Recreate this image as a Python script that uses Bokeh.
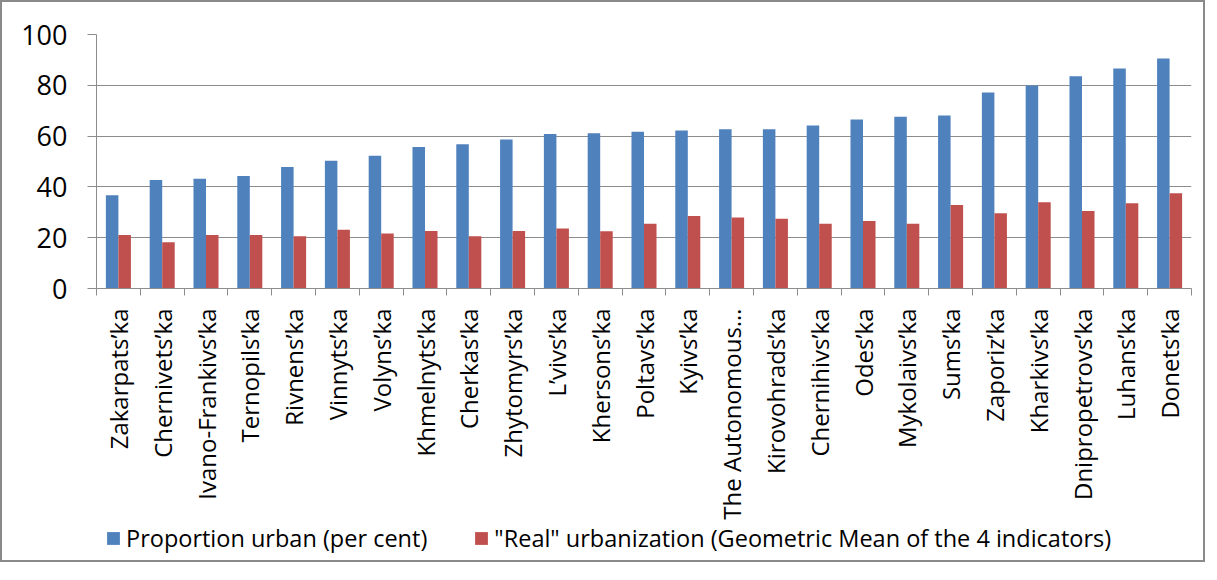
from bokeh.plotting import figure
from bokeh.models import ColumnDataSource, Range1d, FixedTicker, Legend, LegendItem
from bokeh.layouts import column
from bokeh.transform import dodge
from bokeh.embed import file_html
from bokeh.resources import INLINE
import math

regions = ["Zakarpats’ka", "Chernivets’ka", "Ivano-Frankivs’ka", "Ternopils’ka", "Rivnens’ka",
           "Vinnyts’ka", "Volyns’ka", "Khmelnyts’ka", "Cherkas’ka", "Zhytomyrs’ka",
           "L’vivs’ka", "Khersons’ka", "Poltavs’ka", "Kyivs’ka", "The Autonomous…",
           "Kirovohrads’ka", "Chernihivs’ka", "Odes’ka", "Mykolaivs’ka", "Sums’ka",
           "Zaporiz’ka", "Kharkivs’ka", "Dnipropetrovs’ka", "Luhans’ka", "Donets’ka"]
proportion_urban = [36.7, 42.7, 43.2, 44.3, 47.8, 50.3, 52.3, 55.7, 56.8, 58.7,
                    60.8, 61.1, 61.7, 62.2, 62.7, 62.7, 64.2, 66.5, 67.6, 68.1,
                    77.2, 79.9, 83.6, 86.6, 90.6]
real_urbanization = [21.1, 18.2, 21.1, 21.1, 20.6, 23.1, 21.7, 22.6, 20.6, 22.6,
                     23.6, 22.5, 25.5, 28.5, 28.0, 27.5, 25.5, 26.6, 25.5, 32.9,
                     29.6, 34.0, 30.5, 33.6, 37.5]
y_ticks = [0, 20, 40, 60, 80, 100]
series_names = ["Proportion urban (per cent)",
                "\"Real\" urbanization (Geometric Mean of the 4 indicators)"]

n = len(regions)
centers = [i + 0.5 for i in range(n)]
src = ColumnDataSource(dict(x=centers, blue=proportion_urban, red=real_urbanization))

BLUE = "#4F81BD"
RED = "#C0504D"
GRID = "#8C8C8C"
FONT = "Open Sans"

W = 1201          # inner width (inside the 2px frame)
H_MAIN, H_LEG = 520, 38
FL, FT, FW, FH = 94, 32, 1095, 256

p = figure(width=W, height=H_MAIN, output_backend="svg", toolbar_location=None,
           x_range=Range1d(0, n), y_range=Range1d(0, 100))
p.min_border_left = FL
p.min_border_right = W - FL - FW
p.min_border_top = FT
p.min_border_bottom = H_MAIN - FT - FH
p.outline_line_color = None

bw = 1.0 / 3.5
p.vbar(x=dodge("x", -bw / 2, range=p.x_range), top="blue", width=bw, source=src,
       fill_color=BLUE, line_color=None)
p.vbar(x=dodge("x", bw / 2, range=p.x_range), top="red", width=bw, source=src,
       fill_color=RED, line_color=None)

# y axis
p.yaxis.ticker = FixedTicker(ticks=y_ticks, minor_ticks=[])
p.yaxis.axis_line_color = GRID
p.yaxis.major_tick_line_color = GRID
p.yaxis.major_tick_out = 9
p.yaxis.major_tick_in = 0
p.yaxis.minor_tick_line_color = None
p.yaxis.major_label_standoff = 20
p.yaxis.major_label_text_font = FONT
p.yaxis.major_label_text_font_size = "27px"
p.yaxis.major_label_text_color = "#000000"

# x axis: labels at centres, ticks at boundaries
p.xaxis.ticker = FixedTicker(ticks=centers, minor_ticks=list(range(n + 1)))
p.xaxis.major_label_overrides = {c: r for c, r in zip(centers, regions)}
p.xaxis.major_label_orientation = math.pi / 2
p.xaxis.axis_line_color = GRID
p.xaxis.major_tick_line_color = None
p.xaxis.major_tick_out = 0
p.xaxis.major_tick_in = 0
p.xaxis.minor_tick_line_color = GRID
p.xaxis.minor_tick_out = 7
p.xaxis.minor_tick_in = 0
p.xaxis.major_label_standoff = 13
p.xaxis.major_label_text_font = FONT
p.xaxis.major_label_text_font_size = "24px"
p.xaxis.major_label_text_color = "#000000"

p.xgrid.grid_line_color = None
p.ygrid.ticker = FixedTicker(ticks=y_ticks)
p.ygrid.grid_line_color = GRID
p.ygrid.grid_line_width = 1

# legend strip (hidden renderers on the same data supply the legend swatches)
leg = figure(width=W, height=H_LEG, output_backend="svg", toolbar_location=None,
             x_axis_type=None, y_axis_type=None, x_range=Range1d(0, n), y_range=Range1d(0, 100))
leg.min_border = 0
leg.min_border_left = 0
leg.min_border_right = 0
leg.min_border_top = 0
leg.min_border_bottom = 0
leg.outline_line_color = None
leg.xgrid.grid_line_color = None
leg.ygrid.grid_line_color = None
lb = leg.vbar(x="x", top="blue", width=bw, source=src, fill_color=BLUE, line_color=None)
lr = leg.vbar(x="x", top="red", width=bw, source=src, fill_color=RED, line_color=None)
lb.visible = False
lr.visible = False
legend = Legend(items=[LegendItem(label=series_names[0], renderers=[lb]),
                       LegendItem(label=series_names[1], renderers=[lr])],
                location=(9, 6), orientation="horizontal",
                border_line_color=None, background_fill_alpha=0,
                inactive_fill_alpha=0,
                padding=0, margin=0, spacing=46, glyph_width=16, glyph_height=16,
                label_standoff=5, label_text_font=FONT, label_text_font_size="23.5px",
                label_text_color="#000000")
leg.add_layout(legend, "center")

layout = column(p, leg, spacing=0)
layout.styles = {"border": "2px solid #8a8a8a"}

open("out.html", "w").write(file_html(layout, INLINE))
